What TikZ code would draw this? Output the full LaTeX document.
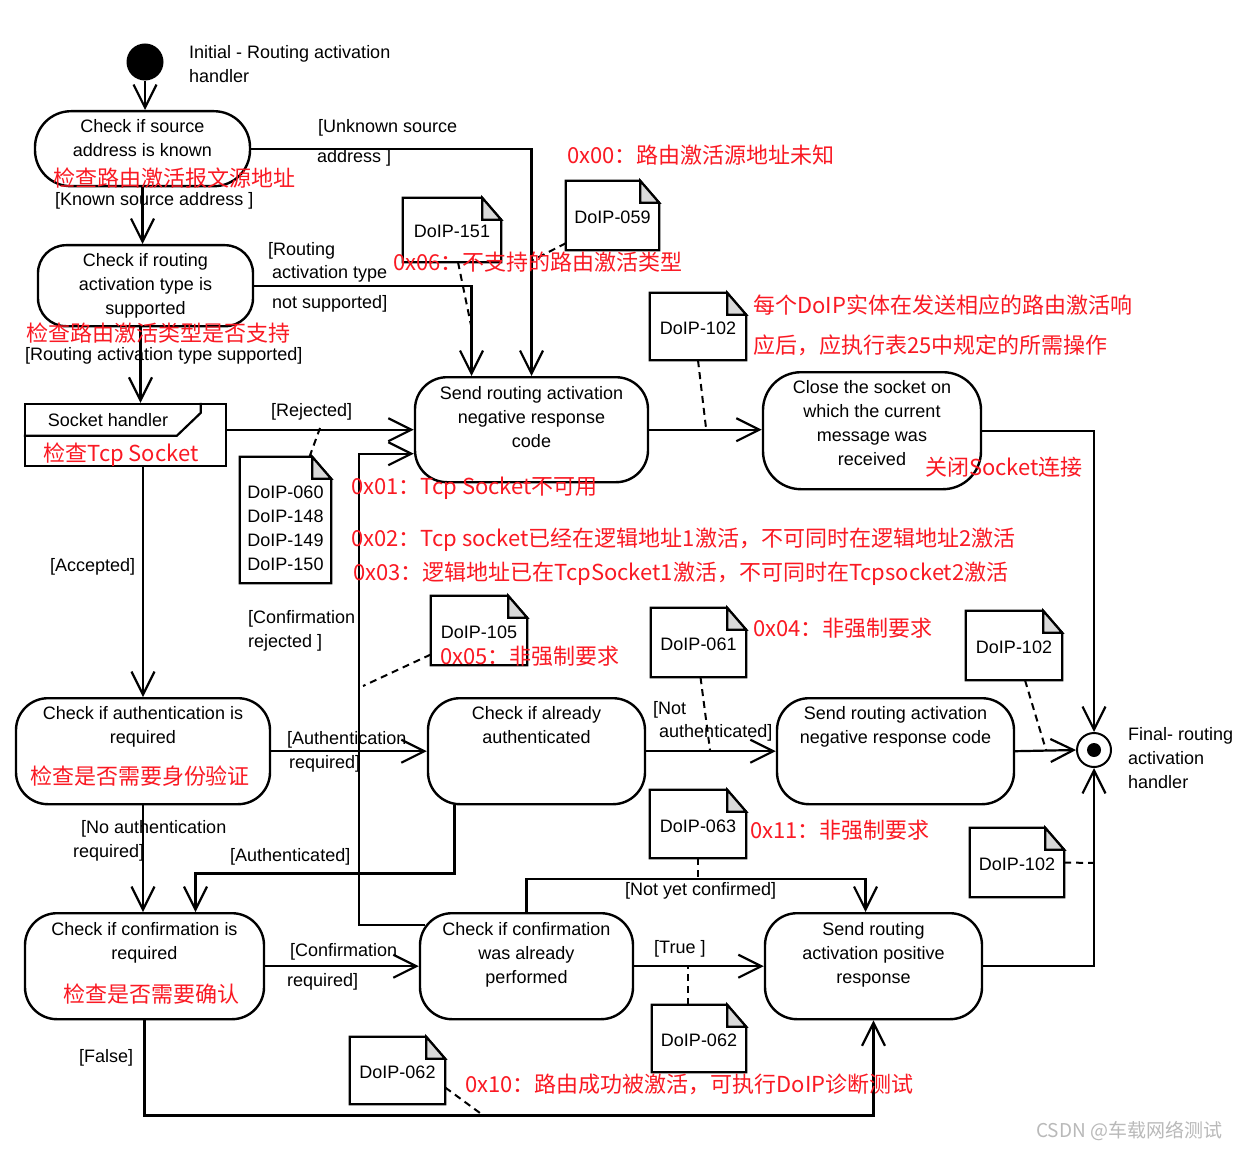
\documentclass[tikz,border=0pt]{standalone}
\usepackage{fontspec}
\setmainfont{Liberation Sans}
\newfontfamily\cjk{Noto Sans CJK SC}
\usetikzlibrary{arrows.meta}
\definecolor{cnred}{RGB}{250,25,35}

\begin{document}
\begin{tikzpicture}[
        x=1pt, y=-1pt,
        act/.style={
            draw,
            line width=2.4pt,
            rounded corners=32pt,
            align=center,
            anchor=north,
            font=\fontsize{18}{24}\selectfont,
            inner xsep=4pt,
            inner ysep=5pt
        },
        note/.style={minimum width=95pt, minimum height=68pt, inner sep=0pt, align=center,
            text height=16pt, text depth=0pt, font=\fontsize{18}{24}\selectfont},
        notel/.style={line width=2.2pt, line join=miter},
        lab/.style={anchor=west, inner sep=0pt, font=\fontsize{18}{24}\selectfont},
        cn/.style={anchor=west, inner sep=0pt, text=cnred, font=\cjk\fontsize{22}{26}\selectfont},
        arr/.style={-{Straight Barb[length=23pt, width=23pt]}, line width=2.2pt},
        link/.style={line width=2pt, dash pattern=on 7pt off 5pt}
    ]
        \useasboundingbox[fill=white] (0,0) rectangle (1242,1150);

        % Start and end
        \node[circle, fill=black, minimum size=37pt, inner sep=0pt] (init) at (145,62) {};
        \node[lab, align=left] (init-t) at (189,64) {Initial - Routing activation\\handler};
        \node[circle, draw, line width=2pt, minimum size=34pt, inner sep=0pt,
            path picture={\fill (path picture bounding box.center) circle (7pt);}] (fin) at (1094,750) {};
        \node[lab, align=left] (fin-t) at (1128,758) {Final- routing\\activation\\handler};

        % Activities
        \node[act, rounded corners=36pt, minimum width=215pt, text height=40pt, text depth=25pt] (src) at (142.5,110) {Check if source\\address is known};
        \node[act, rounded corners=28pt, minimum width=215pt, text height=64pt, text depth=7pt] (rtype) at (145.5,244) {Check if routing\\activation type is\\supported};
        \node[act, minimum width=233pt, text height=65pt, text depth=30pt] (neg1) at (531.5,376) {Send routing activation\\negative response\\code};
        \node[act, rounded corners=38pt, minimum width=218pt, text height=88pt, text depth=19pt] (close) at (872,371) {Close the socket on\\which the current\\message was\\received};
        \node[draw, line width=2.4pt, minimum width=201pt, minimum height=62pt, inner sep=0pt] (sock) at (125.5,435) {};
        \node[act, minimum width=254pt, text height=40pt, text depth=56pt] (auth) at (143,697) {Check if authentication is\\required};
        \node[act, minimum width=217pt, text height=40pt, text depth=56pt] (authd) at (536.5,697) {Check if already\\authenticated};
        \node[act, minimum width=237pt, text height=40pt, text depth=56pt] (neg2) at (895.5,697) {Send routing activation\\negative response code};
        \node[act, minimum width=239pt, text height=41pt, text depth=55pt] (conf) at (144.5,912) {Check if confirmation is\\required};
        \node[act, minimum width=213pt, text height=65pt, text depth=31pt] (confd) at (526.5,912) {Check if confirmation\\was already\\performed};
        \node[act, minimum width=217pt, text height=65pt, text depth=31pt] (pos) at (873.5,912) {Send routing\\activation positive\\response};

        % Socket handler header
        \draw[line width=2.2pt] ([yshift=-33pt]sock.north west) -- ([xshift=153pt,yshift=-33pt]sock.north west)
            -- ([xshift=177pt,yshift=-10pt]sock.north west) -- ([xshift=177pt]sock.north west);
        \node[lab, anchor=center] (sock-t) at (108,420) {Socket handler};

        % Requirement notes
        \node[note, minimum width=98pt, minimum height=64pt] (n151) at (452,230) {DoIP-151};
        \node[note, minimum width=93pt, minimum height=69pt] (n059) at (612.5,215.5) {DoIP-059};
        \node[note, minimum width=96pt, minimum height=67pt] (n102a) at (698,326.5) {DoIP-102};
        \node[note, minimum width=91pt, minimum height=126pt, text height=101pt, text depth=1pt] (n060) at (285.5,520) {DoIP-060\\DoIP-148\\DoIP-149\\DoIP-150};
        \node[note, minimum width=96pt, minimum height=69pt] (n105) at (479,630.5) {DoIP-105};
        \node[note, minimum width=95pt, minimum height=69pt] (n061) at (698.5,642.5) {DoIP-061};
        \node[note, minimum width=96pt, minimum height=69pt] (n102b) at (1014,645.5) {DoIP-102};
        \node[note, minimum width=96pt, minimum height=68pt] (n063) at (698,824) {DoIP-063};
        \node[note, minimum width=94pt, minimum height=69pt] (n102c) at (1017,862.5) {DoIP-102};
        \node[note, minimum width=94pt, minimum height=67pt] (n062a) at (699,1038.5) {DoIP-062};
        \node[note, minimum width=95pt, minimum height=67pt] (n062b) at (397.5,1070.5) {DoIP-062};
        \foreach \n in {n151,n059,n102a,n060,n105,n061,n102b,n063,n102c,n062a,n062b}{
            \draw[notel] (\n.south west) |- ([xshift=-19pt]\n.north east) -- ([yshift=-22pt]\n.north east) -- (\n.south east) -- cycle;
            \draw[notel, fill=gray!30] ([xshift=-19pt]\n.north east) |- ([yshift=-22pt]\n.north east) -- cycle;
        }

        % Guards
        \node[lab] (l-unk1) at (318,128) {[Unknown source};
        \node[lab] (l-unk2) at (317,158) {address ]};
        \node[lab] (l-known) at (55,201) {[Known source address ]};
        \node[lab] (l-rt1) at (268,251) {[Routing};
        \node[lab] (l-rt2) at (272,274) {activation type};
        \node[lab] (l-rt3) at (272,304) {not supported]};
        \node[lab] (l-rtok) at (25,356) {[Routing activation type supported]};
        \node[lab] (l-rej) at (271,412) {[Rejected]};
        \node[lab] (l-acc) at (50,567) {[Accepted]};
        \node[lab] (l-cr1) at (248,619) {[Confirmation};
        \node[lab] (l-cr2) at (248,643) {rejected ]};
        \node[lab] (l-au1) at (287,740) {[Authentication};
        \node[lab] (l-au2) at (289,764) {required]};
        \node[lab] (l-na1) at (653,710) {[Not};
        \node[lab] (l-na2) at (659,733) {authenticated]};
        \node[lab] (l-noau1) at (81,829) {[No authentication};
        \node[lab] (l-noau2) at (73,853) {required]};
        \node[lab] (l-authd) at (230,857) {[Authenticated]};
        \node[lab] (l-nyc) at (625,891) {[Not yet confirmed]};
        \node[lab] (l-cf1) at (290,952) {[Confirmation};
        \node[lab] (l-cf2) at (287,982) {required]};
        \node[lab] (l-true) at (654,949) {[True ]};
        \node[lab] (l-false) at (79,1058) {[False]};

        % Control flow
        \draw[arr] (init) -- (init |- src.north);
        \draw[arr] (src.south) -- (src.south |- rtype.north);
        \draw[arr] ([xshift=-5pt]rtype.south) -- ([xshift=-5pt]rtype.south |- sock.north);
        \draw[arr] (src.east) -| (neg1.north);
        \draw[arr] (rtype.east) -| ([xshift=-60pt]neg1.north);
        \draw[arr] (sock.east |- neg1.west) -- (neg1.west);
        \draw[arr] (neg1.east) -- (neg1.east -| close.west);
        \draw[arr] (close.east) -| (fin.north);
        \draw[arr] (sock.south -| auth.north) -- (auth.north);
        \draw[arr] (auth.east) -- (authd.west);
        \draw[arr] (authd.east) -- (neg2.west);
        \draw[arr] (neg2.east) -- (fin.west);
        \draw[arr] (auth.south) -- (auth.south |- conf.north);
        \draw[arr] ([xshift=-82pt]authd.south) -- ++(0,68) -| ([xshift=51pt]conf.north);
        \draw[arr] (conf.east) -- (confd.west);
        \draw[arr] (confd.east) -- (pos.west);
        \draw[arr] (confd.north) -- ++(0,-33) -| ([xshift=-8pt]pos.north);
        \draw[arr] ([xshift=6pt,yshift=-13pt]confd.north west) -- ++(-66,0) |- ([yshift=-24pt]neg1.west);
        \draw[arr] (conf.south) -- ++(0,95) -| (pos.south);
        \draw[arr] (pos.east) -| (fin.south);

        % Note anchors on the flows
        \coordinate (c151) at (472,330);
        \coordinate (c059) at (533,260);
        \coordinate (c102a) at (706,428);
        \coordinate (c060) at (320,428);
        \coordinate (c105) at (363,686);
        \coordinate (c061) at (710,750);
        \coordinate (c102b) at (1046,750);
        \coordinate (c063) at (698,879);
        \coordinate (c102c) at (1094,863);
        \coordinate (c062a) at (688,965);
        \coordinate (c062b) at (480,1113);
        \draw[link] ([xshift=6pt]n151.south) -- (c151);
        \draw[link] ([yshift=7pt]n059.south west) -- (c059);
        \draw[link] (n102a.south) -- (c102a);
        \draw[link] ([xshift=24pt]n060.north) -- (c060);
        \draw[link] ([yshift=-24pt]n105.west) -- (c105);
        \draw[link] ([xshift=2pt]n061.south) -- (c061);
        \draw[link] ([xshift=11pt]n102b.south) -- (c102b);
        \draw[link] (n063.south) -- (c063);
        \draw[link] (n102c.east) -- (c102c);
        \draw[link] ([xshift=-11pt]n062a.north) -- (c062a);
        \draw[link] ([yshift=-17pt]n062b.east) -- (c062b);

        % Red annotations
        \node[cn, anchor=center] (cn-src) at (174,178) {检查路由激活报文源地址};
        \node[cn, anchor=center] (cn-rtype) at (159,333) {检查路由激活类型是否支持};
        \node[cn] (cn-00) at (567,155) {0x00：路由激活源地址未知};
        \node[cn] (cn-06) at (393,262) {0x06：不支持的路由激活类型};
        \node[cn] (cn-tab1) at (753,305) {每个DoIP实体在发送相应的路由激活响};
        \node[cn] (cn-tab2) at (753,345) {应后，应执行表25中规定的所需操作};
        \node[cn, anchor=center] (cn-sock) at (121,455) {检查Tcp Socket};
        \node[cn] (cn-close) at (925,467) {关闭Socket连接};
        \node[cn] (cn-01) at (351,488) {0x01：Tcp Socket不可用};
        \node[cn] (cn-02) at (351,540) {0x02：Tcp socket已经在逻辑地址1激活，不可同时在逻辑地址2激活};
        \node[cn] (cn-03) at (353,574) {0x03：逻辑地址已在TcpSocket1激活，不可同时在Tcpsocket2激活};
        \node[cn] (cn-05) at (440,656) {0x05：非强制要求};
        \node[cn] (cn-04) at (753,628) {0x04：非强制要求};
        \node[cn, anchor=center] (cn-auth) at (140,776) {检查是否需要身份验证};
        \node[cn] (cn-11) at (750,830) {0x11：非强制要求};
        \node[cn, anchor=center] (cn-conf) at (151,994) {检查是否需要确认};
        \node[cn] (cn-10) at (465,1084) {0x10：路由成功被激活，可执行DoIP诊断测试};

        \node[anchor=west, inner sep=0pt, text=gray!55, font=\cjk\fontsize{19}{22}\selectfont] (mark) at (1036,1131) {CSDN @车载网络测试};
    \end{tikzpicture}
\end{document}
